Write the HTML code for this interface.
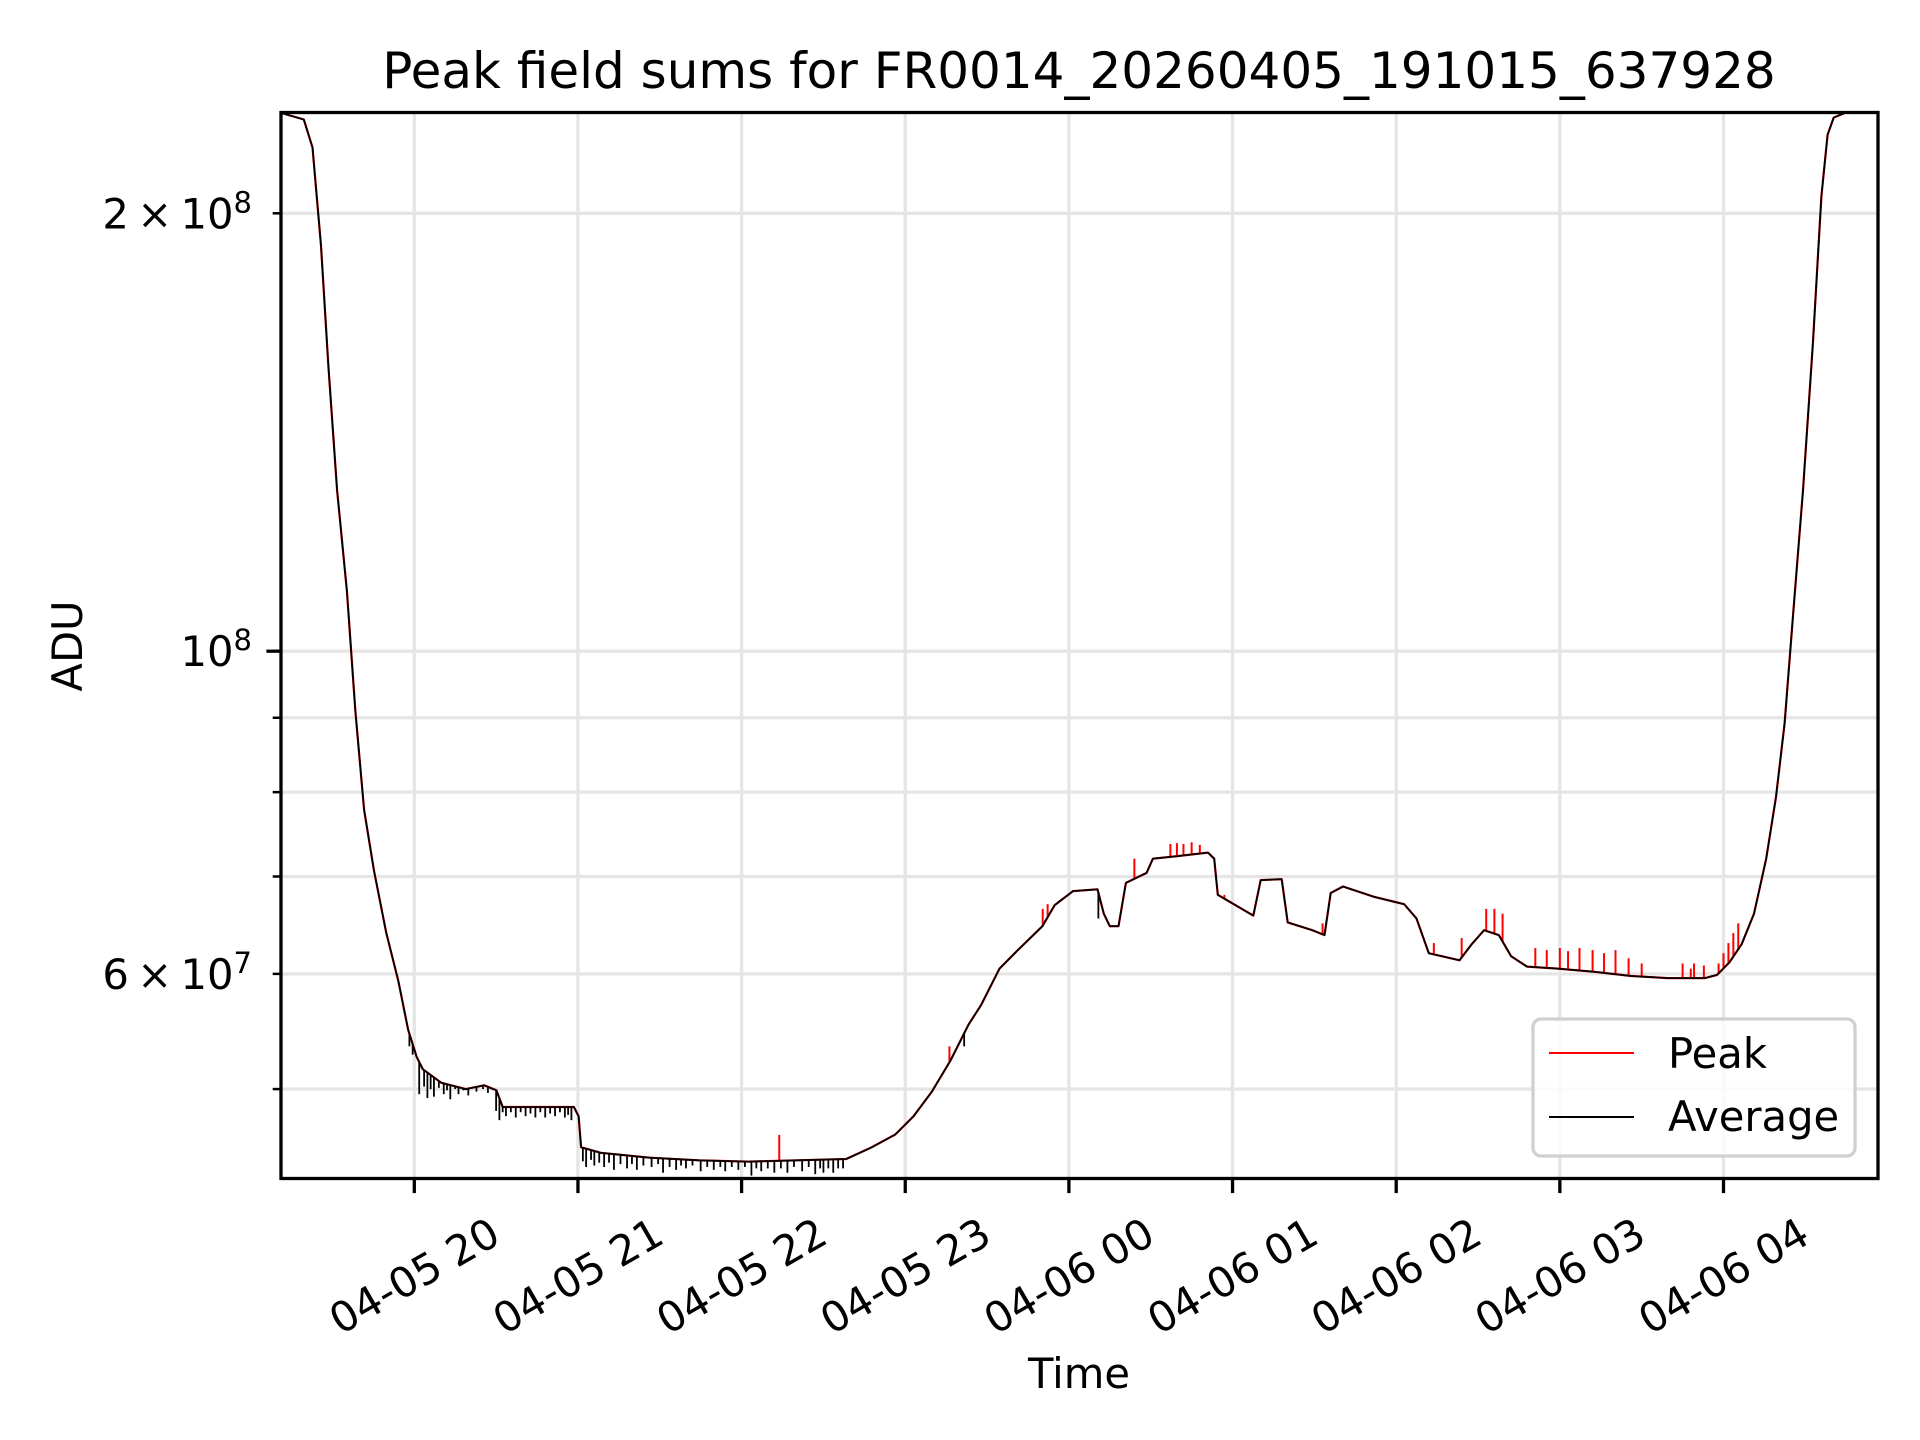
<!DOCTYPE html>
<html><head><meta charset="utf-8"><style>
html,body{margin:0;padding:0;background:#fff;}
svg{display:block;font-family:"DejaVu Sans","Liberation Sans",sans-serif;}
</style></head><body>
<svg id="chart" width="1920" height="1440" viewBox="0 0 1920 1440" xmlns="http://www.w3.org/2000/svg">
<rect width="1920" height="1440" fill="#fff"/>
<defs><clipPath id="plotclip"><rect x="281" y="112.5" width="1597" height="1066"/></clipPath></defs>
<g id="grid"></g>
<g id="series" clip-path="url(#plotclip)"></g>
<rect x="281" y="112.5" width="1597" height="1066" fill="none" stroke="#000" stroke-width="3.3"/>
<g id="ticks"></g>
<text x="1079" y="88" font-size="50" text-anchor="middle">Peak field sums for FR0014_20260405_191015_637928</text>
<text x="0" y="0" font-size="41.7" text-anchor="middle" transform="translate(82,646) rotate(-90)">ADU</text>
<text x="1079" y="1388" font-size="41.7" text-anchor="middle">Time</text>
<g>
<rect x="1533" y="1019" width="322" height="137" rx="8" fill="#fff" fill-opacity="0.8" stroke="#d0d0d0" stroke-width="3.3"/>
<line x1="1549" y1="1053" x2="1634" y2="1053" stroke="#f00" stroke-width="2"/>
<text x="1668" y="1068" font-size="41.7">Peak</text>
<line x1="1549" y1="1117" x2="1634" y2="1117" stroke="#000" stroke-width="2"/>
<text x="1668" y="1131" font-size="41.7">Average</text>
</g>
</svg>
<script>
// hours since 04-05 19:00
const xTickHours=[1,2,3,4,5,6,7,8,9];
const xTickLabels=["04-05 20","04-05 21","04-05 22","04-05 23","04-06 00","04-06 01","04-06 02","04-06 03","04-06 04"];
const yMajorVals=[100];
const yMinorVals=[50,60,70,80,90,200];
const yLabelVals=[200,100,60];
const yLabelMant=["2","","6"];
const yLabelExp=["8","8","7"];
// average series (millions ADU)
const avgT=[0.183,0.325,0.378,0.430,0.475,0.528,0.588,0.640,0.693,0.753,0.828,0.903,0.963,1.015,1.052,1.165,1.315,1.427,1.502,1.540,1.765,1.975,2.004,2.019,2.139,2.439,2.739,3.039,3.339,3.639,3.789,3.939,4.051,4.163,4.276,4.388,4.463,4.576,4.688,4.838,4.913,5.025,5.175,5.213,5.250,5.303,5.348,5.475,5.513,5.663,5.850,5.888,5.910,6.037,6.127,6.172,6.300,6.337,6.487,6.562,6.600,6.675,6.862,7.049,7.124,7.199,7.387,7.462,7.537,7.627,7.702,7.799,7.987,8.211,8.436,8.661,8.886,8.961,9.036,9.111,9.186,9.261,9.321,9.373,9.426,9.486,9.546,9.598,9.636,9.673,9.748,9.943];
const avgV=[234.5,232,222,190,157,129,110,90.9,77.8,70.7,64.1,59.3,54.9,52.6,51.6,50.5,50.0,50.3,49.9,48.6,48.6,48.6,47.9,45.6,45.2,44.85,44.67,44.58,44.67,44.76,45.56,46.53,47.9,49.8,52.3,55.4,57.1,60.5,62.3,64.7,66.9,68.4,68.6,66.0,64.7,64.7,69.3,70.4,72.0,72.3,72.7,72.0,68.0,66.7,65.8,69.6,69.7,65.1,64.3,63.8,68.2,68.9,67.8,67.0,65.5,62.0,61.3,62.9,64.3,63.8,61.7,60.7,60.5,60.2,59.8,59.6,59.6,59.9,61.1,62.9,66.0,72.0,79.4,89.2,106.2,129,162.8,205.5,226.5,232.7,234.6,234.6];
// downward noise dips of the average
const dipT=[1.03,1.06,1.08,1.10,1.12,1.15,1.18,1.20,1.22,1.25,1.27,1.30,1.33,1.36,1.38,1.42,1.45,1.50,1.52,1.54,1.56,1.59,1.62,1.65,1.68,1.71,1.74,1.77,1.80,1.83,1.86,1.89,1.92,1.94,1.96,2.03,2.05,2.08,2.10,2.13,2.16,2.19,2.22,2.26,2.30,2.33,2.36,2.40,2.45,2.49,2.52,2.56,2.60,2.63,2.66,2.70,2.75,2.79,2.83,2.87,2.90,2.94,2.98,3.02,3.06,3.09,3.12,3.16,3.20,3.24,3.28,3.32,3.37,3.41,3.45,3.48,3.50,3.53,3.56,3.59,3.62,0.97,0.99,4.36,5.18];
const dipV=[49.6,50.2,49.3,50.0,49.4,50.1,49.6,49.9,49.2,50.0,49.6,49.9,49.5,50.2,49.8,50.0,49.7,48.3,47.6,48.2,47.9,48.2,47.8,48.2,47.9,48.1,47.8,48.2,47.8,48.1,47.9,48.2,47.8,48.0,47.6,44.6,44.2,44.7,44.3,44.5,44.2,44.5,44.0,44.4,44.1,44.4,44.0,44.3,44.2,44.4,43.8,44.2,44.0,44.3,44.1,44.3,43.9,44.2,44.0,44.2,43.9,44.2,44.0,44.2,43.6,44.1,43.9,44.1,43.8,44.1,43.8,44.2,43.9,44.2,43.7,44.1,43.8,44.1,43.8,44.1,44.1,53.5,52.8,53.5,65.5];
// upward spikes of the peak
const spikeT=[3.23,4.27,4.84,4.87,5.40,5.62,5.66,5.70,5.75,5.80,5.95,6.05,6.55,7.23,7.40,7.55,7.60,7.65,7.85,7.92,8.00,8.05,8.12,8.20,8.27,8.34,8.42,8.50,8.75,8.80,8.82,8.88,8.97,9.00,9.03,9.06,9.09];
const spikeV=[46.5,53.5,66.5,67.0,72.0,73.7,73.8,73.7,73.9,73.6,68.0,66.5,65.0,63.0,63.5,66.5,66.5,66.0,62.5,62.3,62.5,62.2,62.5,62.3,62.0,62.3,61.5,61.0,61.0,60.5,61.0,60.8,61.0,62.0,63.0,64.0,65.0];

const L=281,R=1878,T=112.5,B=1178.5;
const H0=0.1855,H1=9.944;
const LOGTOP=Math.log10(234.6),LOGBOT=Math.log10(43.4);
function xs(h){return L+(h-H0)/(H1-H0)*(R-L);}
function ys(v){return T+(LOGTOP-Math.log10(v))/(LOGTOP-LOGBOT)*(B-T);}
function interp(h){for(let i=1;i<avgT.length;i++){if(h<=avgT[i]){const f=(h-avgT[i-1])/(avgT[i]-avgT[i-1]);return Math.exp(Math.log(avgV[i-1])*(1-f)+Math.log(avgV[i])*f);}}return avgV[avgV.length-1];}
const NS="http://www.w3.org/2000/svg";
function mk(tag,attrs,parent){const e=document.createElementNS(NS,tag);for(const k in attrs)e.setAttribute(k,attrs[k]);parent.appendChild(e);return e;}
const grid=document.getElementById('grid'),ser=document.getElementById('series'),tk=document.getElementById('ticks'),svg=document.getElementById('chart');

xTickHours.forEach((h,i)=>{
 const x=xs(h);
 const g=mk('line',{x1:x,y1:T,x2:x,y2:B,stroke:'#e5e5e5','stroke-width':3.3},grid);
 
 
 const t=mk('line',{x1:x,y1:B,x2:x,y2:B+14.6,stroke:'#000','stroke-width':3.3},tk);
 
 
 const lb=mk('text',{x:0,y:0,'font-size':41.7,'text-anchor':'middle','dominant-baseline':'central',transform:`translate(${x},1276) rotate(-30)`},svg);
 lb.textContent=xTickLabels[i];
 
 
});
yMajorVals.concat(yMinorVals).forEach((v,i)=>{
 const y=ys(v);const major=i<yMajorVals.length;
 const g=mk('line',{x1:L,y1:y,x2:R,y2:y,stroke:'#e5e5e5','stroke-width':3.3},grid);
 
 
 const t=mk('line',{x1:L-(major?14.6:8.3),y1:y,x2:L,y2:y,stroke:'#000','stroke-width':major?3.3:2.5},tk);
 
 
});
yLabelVals.forEach((v,i)=>{
 const y=ys(v);
 const lb=mk('text',{x:252,y:y+15,'font-size':41.7,'text-anchor':'end'},svg);
 
 
 const pre=yLabelMant[i]?yLabelMant[i]+"\u2009\u00d7\u200910":"10";
 const s1=mk('tspan',{},lb);s1.textContent=pre;
 const s2=mk('tspan',{dy:-16,'font-size':29},lb);s2.textContent=yLabelExp[i];
});
function pathFrom(ts,vs){let d='';ts.forEach((h,i)=>{d+=(i?'L':'M')+xs(h).toFixed(1)+' '+ys(vs[i]).toFixed(1);});return d;}
const peak=mk('path',{d:pathFrom(avgT,avgV),fill:'none',stroke:'#f00','stroke-width':2.2,'stroke-linejoin':'round'},ser);


spikeT.forEach((h,i)=>{
 const x=xs(h);
 const s=mk('line',{x1:x,y1:ys(interp(h)),x2:x,y2:ys(spikeV[i]),stroke:'#f00','stroke-width':2},ser);
 
 
});
const avg=mk('path',{d:pathFrom(avgT,avgV),fill:'none',stroke:'#000','stroke-width':1.8,'stroke-linejoin':'round'},ser);


dipT.forEach((h,i)=>{
 const x=xs(h);
 const s=mk('line',{x1:x,y1:ys(interp(h)),x2:x,y2:ys(dipV[i]),stroke:'#000','stroke-width':1.8},ser);
 
 
});
</script>
</body></html>
